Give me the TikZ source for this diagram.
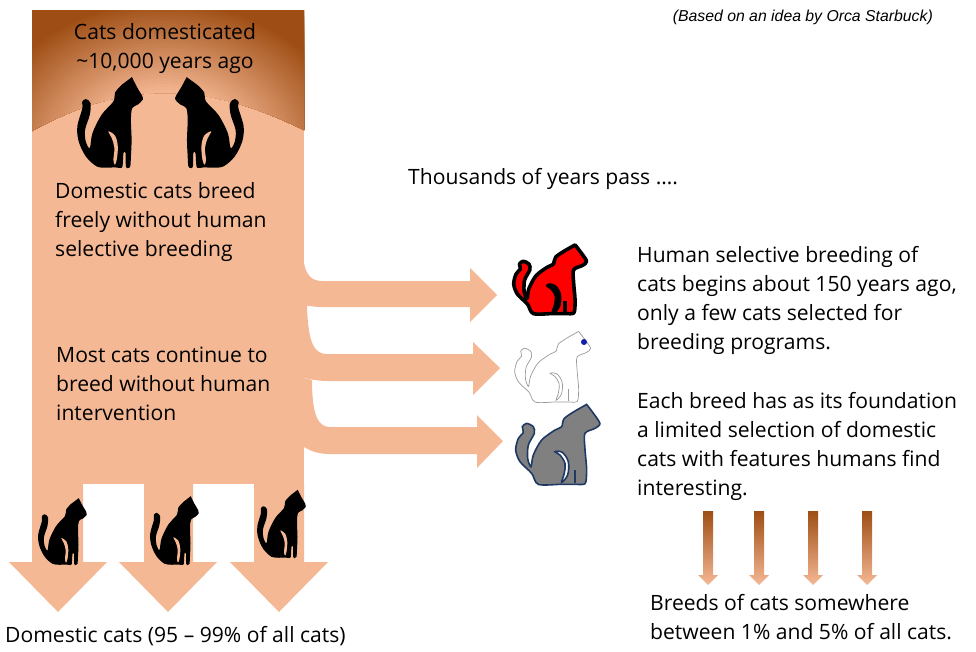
\documentclass[tikz,border=0pt]{standalone}
\usepackage{fontspec}
\setmainfont{Open Sans}
\newfontfamily\notefont{Liberation Sans}
\usepackage{xcolor}
\definecolor{peach}{RGB}{245, 184, 148}
\definecolor{rust}{RGB}{158, 78, 20}
\definecolor{navy}{RGB}{31, 56, 100}
\usepackage{tikz}
\tikzstyle{story} = [anchor=north west, inner sep=0pt, align=left, font=\fontsize{21.1}{29}\selectfont]
\tikzstyle{flow} = [fill=peach]
\tikzstyle{breedarrow} = [top color=rust, bottom color=peach]
\tikzstyle{catblack} = [fill=black]
\tikzstyle{catred} = [fill=red, draw=black, line width=3.6pt, line join=round]
\tikzstyle{catwhite} = [fill=white, draw=black!40, line width=.7pt]
\tikzstyle{catgray} = [fill=black!50, draw=navy, line width=1.6pt]
\newcommand{\catoutline}{plot[smooth, tension=.55] coordinates {(163,273) (178,243) (193,217) (195,205) (180,190) (164,180) (160,145) (162,85) (160,35) (158,5) (151,0) (145,5) (144,45) (138,45) (135,5) (128,0) (113,2) (88,1) (58,5) (26,35) (5,80) (1,125) (16,180) (15,198) (26,207) (40,195) (38,160) (24,115) (26,80) (38,60) (46,105) (73,160) (108,200) (113,227) (133,250)} -- cycle}
\newcommand{\catslit}{plot[smooth cycle, tension=.6] coordinates {(93,110) (113,97) (121,65) (118,25) (112,10) (108,25) (111,60) (103,90)}}
\newcommand{\breedoutline}{plot[smooth, tension=.5] coordinates {(212,245) (229,223) (252,188) (237,173) (207,158) (207,113) (212,53) (210,13) (202,5) (177,5) (157,5) (132,5) (67,5) (47,38) (12,73) (-1,108) (7,143) (22,161) (19,178) (32,188) (52,178) (55,158) (37,123) (35,83) (45,58) (52,93) (77,138) (117,168) (137,178) (145,203) (182,228)} -- cycle}
\newcommand{\breedslit}{plot[smooth cycle, tension=.6] coordinates {(117,103) (139,101) (157,73) (155,33) (137,11) (145,38) (147,68) (132,93)}}
\tikzset{pics/cat/.style n args={3}{code={
    \begin{scope}[x=#2pt, y=#3pt]
        \path[pic actions] \catoutline;
        \path[pic actions, fill=#1] \catslit;
    \end{scope}
}}}
\tikzset{pics/breedcat/.style n args={3}{code={
    \begin{scope}[x=#2pt, y=#3pt]
        \path[pic actions] \breedoutline;
        \path[pic actions, fill=#1] \breedslit;
        \path[pic actions, fill=none] (178,48) -- (178,8);
    \end{scope}
}}}

\begin{document}
\begin{tikzpicture}[x=1pt, y=-1pt]
    \useasboundingbox (0,0) rectangle (976,651);

    % trunk and dome
    \fill[flow] (32,10) rectangle (304,484);
    \begin{scope}
        \clip (32,10) -- (304,10) -- (304,130) .. controls (250,104) and (210,93) .. (165,93) .. controls (120,93) and (80,105) .. (32,131) -- cycle;
        \foreach \r [evaluate=\r as \m using {min(100,(\r-57)/93*100)}] in {186,183,...,57}
            \fill[rust!\m!peach, shift={(165,150)}] (0,0) ellipse [x radius=1.25*\r, y radius=\r];
    \end{scope}

    % arrows to the breeds
    \fill[flow] (304,263) .. controls (306,275) and (312,281) .. (322,281) -- (470,281) -- (470,268) -- (497,295) -- (470,322) -- (470,307) -- (322,307) .. controls (315,307) and (309,306) .. (304,305) -- cycle;
    \fill[flow] (304,305) -- (307,305) .. controls (308,345) and (315,354) .. (327,354) -- (473,354) -- (473,342) -- (500,368) -- (473,395) -- (473,381) -- (327,381) .. controls (320,381) and (314,380) .. (304,378) -- cycle;
    \fill[flow] (304,378) -- (312,380) .. controls (312,415) and (318,427) .. (330,427) -- (477,427) -- (477,415) -- (503,441) -- (477,468) -- (477,454) -- (330,454) .. controls (320,454) and (312,452) .. (304,447) -- cycle;

    % arrows out of the bottom
    \foreach \l/\r/\c in {32/83/58, 144/193/168, 254/304/279}
        \fill[flow] (\l,484) -- (\r,484) -- (\r,562) -- (\c+49,562) -- (\c,612) -- (\c-49,562) -- (\l,562) -- cycle;

    % small arrows
    \foreach \c in {708,759,813,867}
        \shade[breedarrow] (\c-5,511) -- (\c+5,511) -- (\c+5,575) -- (\c+10,575) -- (\c,585) -- (\c-10,575) -- (\c-5,575) -- cycle;

    % cats
    \pic[catblack] at (77,168) {cat={peach}{.337}{.333}};
    \pic[catblack] at (244,168) {cat={peach}{-.352}{.333}};
    \pic[catblack] at (38,565) {cat={peach}{.25}{.245}};
    \pic[catblack] at (150,565) {cat={peach}{.25}{.252}};
    \pic[catblack] at (257,558) {cat={peach}{.25}{.25}};
    \pic[catred] at (514,315) {breedcat={black}{.288}{.286}};
    \pic[catwhite] at (515,403.5) {breedcat={white}{.3}{.294}};
    \fill[blue!45!navy] (584,342) circle (3);
    \pic[catgray] at (516,486) {breedcat={white}{.333}{.333}};

    % texts
    \node[story, anchor=north, align=center] (domesticated) at (165,23) {Cats domesticated\\\textasciitilde 10,000 years ago};
    \node[story] (freely) at (55,182) {Domestic cats breed\\freely without human\\selective breeding};
    \node[story] (most) at (56,347) {Most cats continue to\\breed without human\\intervention};
    \node[story] (pass) at (408,168) {Thousands of years pass ….};
    \node[story] (human) at (637,246) {Human selective breeding of\\cats begins about 150 years ago,\\only a few cats selected for\\breeding programs.};
    \node[story] (foundation) at (637,392) {Each breed has as its foundation\\a limited selection of domestic\\cats with features humans find\\interesting.};
    \node[story] (breeds) at (650,594) {Breeds of cats somewhere\\between 1\% and 5\% of all cats.};
    \node[story] (domestic) at (5,626) {Domestic cats (95 – 99\% of all cats)};
    \node[anchor=north east, inner sep=0pt, font=\notefont\itshape\fontsize{15.8}{18}\selectfont] (idea) at (933,10) {(Based on an idea by Orca Starbuck)};
\end{tikzpicture}
\end{document}
